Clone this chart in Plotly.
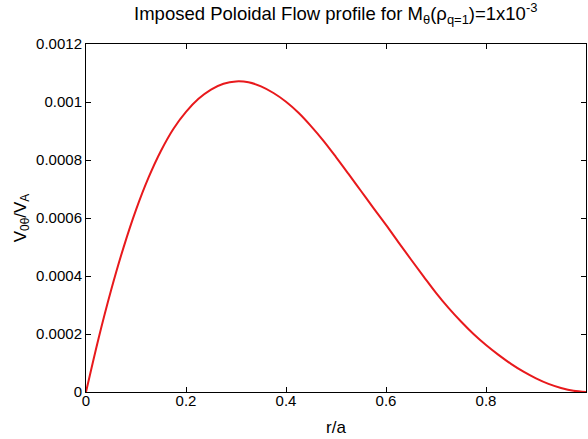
import plotly.graph_objects as go

r_vals = [0, 0.025, 0.05, 0.075, 0.1, 0.125, 0.15, 0.175, 0.2, 0.225, 0.25, 0.275,
          0.3, 0.325, 0.35, 0.375, 0.4, 0.425, 0.45, 0.475, 0.5, 0.525, 0.55, 0.575,
          0.6, 0.625, 0.65, 0.675, 0.7, 0.725, 0.75, 0.775, 0.8, 0.825, 0.85, 0.875,
          0.9, 0.925, 0.95, 0.975, 1.0]
v_vals = [0, 0.000184, 0.000350, 0.000498, 0.000628, 0.000739, 0.000832, 0.000908,
          0.000966, 0.001011, 0.001043, 0.001063, 0.001071, 0.001068, 0.001054,
          0.001031, 0.001001, 0.000963, 0.000917, 0.000866, 0.000810, 0.000752,
          0.000693, 0.000634, 0.000576, 0.000516, 0.000457, 0.000399, 0.000342,
          0.000290, 0.000243, 0.000200, 0.000162, 0.000128, 0.000097, 0.000070,
          0.000047, 0.000028, 0.000014, 0.000004, 0]

x_ticks = [0, 0.2, 0.4, 0.6, 0.8]
x_tick_text = ["0", "0.2", "0.4", "0.6", "0.8"]
y_ticks = [0, 0.0002, 0.0004, 0.0006, 0.0008, 0.001, 0.0012]
y_tick_text = ["0", "0.0002", "0.0004", "0.0006", "0.0008", "0.001", "0.0012"]

fig = go.Figure()
fig.add_trace(go.Scatter(x=r_vals, y=v_vals, mode="lines",
                         line=dict(color="#e8191c", width=2, shape="spline", smoothing=1.0),
                         showlegend=False, hoverinfo="skip"))

font = "Liberation Sans, Arial, Helvetica, sans-serif"
axis_common = dict(showline=True, linecolor="black", linewidth=1, mirror="ticks",
                   ticks="inside", ticklen=5, tickcolor="black", tickwidth=1,
                   showgrid=False, zeroline=False, automargin=False,
                   tickfont=dict(family=font, size=15, color="black"))

fig.update_layout(
    width=588, height=439,
    margin=dict(l=86, r=2, t=44, b=47),
    paper_bgcolor="white", plot_bgcolor="white",
    font=dict(family=font, color="black"),
    title=dict(text="Imposed Poloidal Flow profile for M<sub>θ</sub>(ρ<sub>q=1</sub>)=1x10<sup>-3</sup>",
               x=0.571, xanchor="center", y=0.984, yanchor="top",
               font=dict(family=font, size=18.5, color="black")),
    xaxis=dict(range=[0, 1.0], tickvals=x_ticks, ticktext=x_tick_text,
               ticklabelstandoff=-5,
               title=dict(text="r/a", font=dict(family=font, size=17), standoff=13),
               **axis_common),
    yaxis=dict(range=[0, 0.0012], tickvals=y_ticks, ticktext=y_tick_text,
               ticklabelstandoff=0,
               title=dict(text="V<sub>0θ</sub>/V<sub>A</sub>", font=dict(family=font, size=17), standoff=5),
               **axis_common),
)

fig.write_html("out.html", config={"displayModeBar": False},
               post_script="document.body.style.margin='0';document.body.style.overflow='hidden';")
